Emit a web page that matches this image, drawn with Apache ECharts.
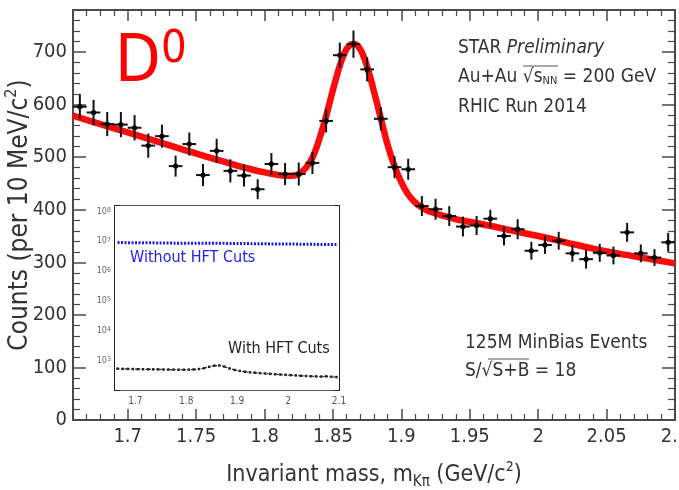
<!DOCTYPE html>
<html>
<head>
<meta charset="utf-8">
<script src="https://cdn.jsdelivr.net/npm/echarts@6/dist/echarts.min.js"></script>
<style>
  html, body { margin: 0; padding: 0; background: #fff; }
  #chart { width: 679px; height: 490px; }
</style>
</head>
<body>
<div id="chart"></div>
<script>
// Kπ invariant-mass bins (bin centres, GeV/c^2), width 10 MeV
const massBins = [1.665, 1.675, 1.685, 1.695, 1.705, 1.715, 1.725, 1.735, 1.745, 1.755,
  1.765, 1.775, 1.785, 1.795, 1.805, 1.815, 1.825, 1.835, 1.845, 1.855,
  1.865, 1.875, 1.885, 1.895, 1.905, 1.915, 1.925, 1.935, 1.945, 1.955,
  1.965, 1.975, 1.985, 1.995, 2.005, 2.015, 2.025, 2.035, 2.045, 2.055,
  2.065, 2.075, 2.085, 2.095];
// counts per bin and their statistical errors
const counts = [596, 585, 563, 562, 556, 522, 540, 483, 525, 466,
  512, 474, 465, 439, 487, 468, 468, 489, 569, 694,
  715, 667, 573, 481, 477, 407, 401, 388, 368, 370,
  383, 350, 363, 322, 333, 341, 317, 306, 318, 313,
  357, 317, 309, 338];
const countErr = [24, 24, 23, 24, 24, 23, 22, 20, 22, 21,
  23, 22, 21, 19, 21, 21, 22, 21, 22, 24,
  26, 23, 22, 21, 20, 19, 20, 19, 19, 18,
  17, 18, 19, 17, 17, 17, 16, 18, 17, 17,
  18, 17, 16, 18];
// fitted signal + background curve
const fitMass = [1.66, 1.68, 1.70, 1.72, 1.74, 1.76, 1.78, 1.79, 1.80, 1.81,
  1.815, 1.82, 1.825, 1.83, 1.835, 1.84, 1.845, 1.85, 1.855, 1.86,
  1.865, 1.87, 1.875, 1.88, 1.885, 1.89, 1.895, 1.90, 1.905, 1.91,
  1.915, 1.92, 1.93, 1.94, 1.96, 1.98, 2.00, 2.02, 2.04, 2.06, 2.08, 2.10];
const fitCounts = [579, 563, 547, 531, 515, 499, 484, 477, 471, 466,
  464.5, 464.5, 468, 479, 499, 534, 578, 628, 674, 706,
  716, 705, 672, 625, 574, 523, 483, 452, 429, 414,
  404, 397, 389, 382, 372, 361, 350, 338, 326, 316, 307, 298];
// inset: yields without and with HFT cuts (log scale)
const insetWithout = [8.9e6, 8.9e6, 8.8e6, 8.8e6, 8.8e6, 8.7e6, 8.7e6, 8.7e6, 8.6e6, 8.6e6,
  8.6e6, 8.5e6, 8.5e6, 8.5e6, 8.5e6, 8.4e6, 8.4e6, 8.4e6, 8.5e6, 8.5e6,
  8.5e6, 8.4e6, 8.3e6, 8.3e6, 8.2e6, 8.2e6, 8.2e6, 8.1e6, 8.1e6, 8.1e6,
  8.0e6, 8.0e6, 8.0e6, 7.9e6, 7.9e6, 7.9e6, 7.8e6, 7.8e6, 7.8e6, 7.7e6,
  7.7e6, 7.7e6, 7.6e6, 7.6e6];
const insetWith = [520, 512, 508, 505, 500, 498, 495, 492, 490, 488,
  485, 483, 480, 478, 482, 490, 505, 540, 600, 655,
  665, 610, 530, 470, 435, 410, 392, 380, 368, 358,
  348, 338, 330, 322, 315, 308, 300, 295, 290, 286,
  282, 288, 278, 272];
// tick positions
const xTickLabels = [1.7, 1.75, 1.8, 1.85, 1.9, 1.95, 2.0, 2.05, 2.1];
const xMinorTicks = [1.66, 1.67, 1.68, 1.69, 1.71, 1.72, 1.73, 1.74, 1.76, 1.77, 1.78, 1.79,
  1.81, 1.82, 1.83, 1.84, 1.86, 1.87, 1.88, 1.89, 1.91, 1.92, 1.93, 1.94,
  1.96, 1.97, 1.98, 1.99, 2.01, 2.02, 2.03, 2.04, 2.06, 2.07, 2.08, 2.09];
const yTickLabels = [0, 100, 200, 300, 400, 500, 600, 700];
const yMinorTicks = [20, 40, 60, 80, 120, 140, 160, 180, 220, 240, 260, 280, 320, 340, 360, 380,
  420, 440, 460, 480, 520, 540, 560, 580, 620, 640, 660, 680, 720, 740, 760];
const insetXTicks = [1.7, 1.8, 1.9, 2.0, 2.1];
const insetXMinor = [1.68, 1.72, 1.74, 1.76, 1.78, 1.82, 1.84, 1.86, 1.88,
  1.92, 1.94, 1.96, 1.98, 2.02, 2.04, 2.06, 2.08];

const FONT = "'Liberation Sans Narrow', 'DejaVu Sans Condensed', 'Liberation Sans', Arial, sans-serif";
const AXIS = '#4a4a4a';

const pts = massBins.map((m, i) => [m, counts[i], countErr[i]]);
const fitPts = fitMass.map((m, i) => [m, fitCounts[i]]);

function hidden(extra) {
  return Object.assign({
    axisLabel: { show: false }, splitLine: { show: false }
  }, extra);
}

const chart = echarts.init(document.getElementById('chart'), null, { renderer: 'canvas' });

const supStyle = { fontFamily: FONT, fontSize: 14, verticalAlign: 'top', lineHeight: 14, color: '#333' };
const subStyle = { fontFamily: FONT, fontSize: 15, verticalAlign: 'bottom', lineHeight: 14, color: '#333' };
const supStyleY = { fontFamily: FONT, fontSize: 16, verticalAlign: 'top', lineHeight: 15, color: '#333' };

chart.setOption({
  animation: false,
  backgroundColor: '#fff',
  grid: [
    { left: 73, top: 10, width: 602, height: 410, show: false, outerBoundsMode: 'none', containLabel: false },
    { left: 115, top: 206, width: 224, height: 184, show: true, backgroundColor: '#fff', borderWidth: 0, z: 5,
      outerBoundsMode: 'none', containLabel: false }
  ],
  xAxis: [
    { // main bottom axis with labels and title
      type: 'value', gridIndex: 0, min: 1.66, max: 2.1, position: 'bottom',
      axisLine: { show: true, onZero: false, lineStyle: { color: AXIS, width: 2 } },
      axisTick: { show: true, inside: true, length: 11, customValues: xTickLabels, lineStyle: { color: AXIS, width: 1.5 } },
      axisLabel: { show: true, customValues: xTickLabels, margin: 7, color: '#333', fontSize: 20, fontFamily: FONT,
        hideOverlap: false, formatter: v => String(+v.toFixed(2)) },
      splitLine: { show: false },
      name: 'Invariant mass, m{sub|Kπ} (GeV/c{sup|2})',
      nameLocation: 'middle', nameGap: 40,
      nameTextStyle: { fontSize: 23, fontFamily: FONT, color: '#333', lineHeight: 30,
        rich: { sub: subStyle, sup: supStyle } }
    },
    hidden({ type: 'value', gridIndex: 0, min: 1.66, max: 2.1, position: 'bottom',
      axisLine: { show: false, onZero: false },
      axisTick: { show: true, inside: true, length: 6, customValues: xMinorTicks, lineStyle: { color: AXIS, width: 1.2 } } }),
    hidden({ type: 'value', gridIndex: 0, min: 1.66, max: 2.1, position: 'top',
      axisLine: { show: true, onZero: false, lineStyle: { color: AXIS, width: 2 } },
      axisTick: { show: true, inside: true, length: 11, customValues: xTickLabels, lineStyle: { color: AXIS, width: 1.5 } } }),
    hidden({ type: 'value', gridIndex: 0, min: 1.66, max: 2.1, position: 'top',
      axisLine: { show: false, onZero: false },
      axisTick: { show: true, inside: true, length: 6, customValues: xMinorTicks, lineStyle: { color: AXIS, width: 1.2 } } }),
    { // inset x axis
      type: 'value', gridIndex: 1, min: 1.66, max: 2.1, position: 'bottom',
      axisLine: { show: true, onZero: false, lineStyle: { color: '#222', width: 1.5 } },
      axisTick: { show: true, inside: true, length: 5, customValues: insetXTicks, lineStyle: { color: '#222' } },
      axisLabel: { show: true, customValues: insetXTicks, margin: 6, color: '#555', fontSize: 10, fontFamily: FONT,
        hideOverlap: false, formatter: v => String(+v.toFixed(1)) },
      splitLine: { show: false }
    },
    hidden({ type: 'value', gridIndex: 1, min: 1.66, max: 2.1, position: 'bottom',
      axisLine: { show: false, onZero: false },
      axisTick: { show: true, inside: true, length: 3, customValues: insetXMinor, lineStyle: { color: '#222' } } }),
    hidden({ type: 'value', gridIndex: 1, min: 1.66, max: 2.1, position: 'top',
      axisLine: { show: true, onZero: false, lineStyle: { color: '#222', width: 1.5 } },
      axisTick: { show: true, inside: true, length: 4, customValues: insetXTicks.concat(insetXMinor), lineStyle: { color: '#222' } } })
  ],
  yAxis: [
    { // main left axis with labels and title
      type: 'value', gridIndex: 0, min: 0, max: 780, position: 'left',
      axisLine: { show: true, onZero: false, lineStyle: { color: AXIS, width: 2 } },
      axisTick: { show: true, inside: true, length: 13, customValues: yTickLabels, lineStyle: { color: AXIS, width: 1.5 } },
      axisLabel: { show: true, customValues: yTickLabels, margin: 6, color: '#333', fontSize: 20, fontFamily: FONT },
      splitLine: { show: false },
      name: 'Counts (per 10 MeV/c{sup|2})',
      nameLocation: 'middle', nameGap: 37, nameRotate: 90, nameMoveOverlap: false,
      nameTextStyle: { fontSize: 26, fontFamily: FONT, color: '#333', lineHeight: 32,
        rich: { sup: supStyleY } }
    },
    hidden({ type: 'value', gridIndex: 0, min: 0, max: 780, position: 'left',
      axisLine: { show: false, onZero: false },
      axisTick: { show: true, inside: true, length: 7, customValues: yMinorTicks, lineStyle: { color: AXIS, width: 1.2 } } }),
    hidden({ type: 'value', gridIndex: 0, min: 0, max: 780, position: 'right',
      axisLine: { show: true, onZero: false, lineStyle: { color: AXIS, width: 2 } },
      axisTick: { show: true, inside: true, length: 13, customValues: yTickLabels, lineStyle: { color: AXIS, width: 1.5 } } }),
    hidden({ type: 'value', gridIndex: 0, min: 0, max: 780, position: 'right',
      axisLine: { show: false, onZero: false },
      axisTick: { show: true, inside: true, length: 7, customValues: yMinorTicks, lineStyle: { color: AXIS, width: 1.2 } } }),
    { // inset log axis
      type: 'log', gridIndex: 1, min: 100, max: 1.5e8, logBase: 10, position: 'left',
      axisLine: { show: true, onZero: false, lineStyle: { color: '#222', width: 2 } },
      axisTick: { show: true, inside: true, length: 5, lineStyle: { color: '#222', width: 2 } },
      minorTick: { show: true, splitNumber: 5, length: 3, lineStyle: { color: '#222' } },
      axisLabel: { show: true, margin: 4, color: '#666', fontSize: 9, fontFamily: FONT,
        formatter: v => {
          const e = Math.round(Math.log10(v));
          if (Math.abs(Math.log10(v) - e) > 1e-6 || e < 3) return '';
          return '10{s|' + e + '}';
        },
        rich: { s: { fontSize: 7, verticalAlign: 'top', lineHeight: 8, color: '#666', fontFamily: FONT } } },
      splitLine: { show: false }
    },
    hidden({ type: 'log', gridIndex: 1, min: 100, max: 1.5e8, logBase: 10, position: 'right',
      axisLine: { show: true, onZero: false, lineStyle: { color: '#222', width: 2 } },
      axisTick: { show: true, inside: true, length: 5, lineStyle: { color: '#222', width: 2 } },
      minorTick: { show: true, splitNumber: 5, length: 3, lineStyle: { color: '#222' } } })
  ],
  series: [
    {
      type: 'line', name: 'fit', xAxisIndex: 0, yAxisIndex: 0,
      data: fitPts, smooth: 0.35, showSymbol: false, z: 2,
      lineStyle: { color: '#ff0a0a', width: 6.5 }
    },
    {
      type: 'custom', name: 'data', xAxisIndex: 0, yAxisIndex: 0, z: 3,
      data: pts,
      renderItem: (params, api) => {
        const m = api.value(0), c = api.value(1), e = api.value(2);
        const p = api.coord([m, c]);
        const t = api.coord([m, c + e]);
        const b = api.coord([m, c - e]);
        const l = api.coord([m - 0.005, c]);
        const r = api.coord([m + 0.005, c]);
        const st = { stroke: '#111', lineWidth: 2 };
        return {
          type: 'group',
          children: [
            { type: 'line', shape: { x1: p[0], y1: t[1], x2: p[0], y2: b[1] }, style: st },
            { type: 'line', shape: { x1: l[0], y1: p[1], x2: r[0], y2: p[1] }, style: st },
            { type: 'circle', shape: { cx: p[0], cy: p[1], r: 2.6 }, style: { fill: '#000' } }
          ]
        };
      }
    },
    {
      type: 'line', name: 'Without HFT Cuts', xAxisIndex: 4, yAxisIndex: 4, z: 6,
      data: massBins.map((m, i) => [m, insetWithout[i]]),
      showSymbol: false,
      lineStyle: { color: '#1c1cf0', width: 3, type: [2, 1.5] }
    },
    {
      type: 'line', name: 'With HFT Cuts', xAxisIndex: 4, yAxisIndex: 4, z: 6,
      data: massBins.map((m, i) => [m, insetWith[i]]),
      symbol: 'rect', symbolSize: 2.5, showSymbol: true,
      itemStyle: { color: '#222' },
      lineStyle: { color: '#222', width: 1.2, type: [2, 1.5] }
    }
  ],
  graphic: [
    { type: 'text', left: 115, top: 31, z: 10,
      style: { text: 'D', font: '66px ' + FONT, fill: '#ff0000' } },
    { type: 'text', left: 161, top: 28, z: 10,
      style: { text: '0', font: '45px ' + FONT, fill: '#ff0000' } },
    { type: 'text', x: 458, y: 58, z: 10,
      style: { text: 'STAR {i|Preliminary}', font: '19px ' + FONT, fill: '#333', verticalAlign: 'bottom',
        rich: { i: { fontStyle: 'italic', fontSize: 19, fontFamily: FONT, fill: '#333' } } } },
    { type: 'text', x: 458, y: 87, z: 10,
      style: { text: 'Au+Au √s{n|NN} = 200 GeV', font: '19px ' + FONT, fill: '#333', verticalAlign: 'bottom',
        rich: { n: { fontSize: 11, fontFamily: FONT, fill: '#333', verticalAlign: 'bottom', lineHeight: 10 } } } },
    { type: 'line', z: 10, shape: { x1: 523, y1: 66, x2: 558, y2: 66 }, style: { stroke: '#555', lineWidth: 1 } },
    { type: 'text', x: 458, y: 117, z: 10,
      style: { text: 'RHIC Run 2014', font: '19px ' + FONT, fill: '#333', verticalAlign: 'bottom' } },
    { type: 'text', x: 465, y: 353, z: 10,
      style: { text: '125M MinBias Events', font: '19px ' + FONT, fill: '#333', verticalAlign: 'bottom' } },
    { type: 'text', x: 465, y: 381, z: 10,
      style: { text: 'S/√S+B = 18', font: '19px ' + FONT, fill: '#333', verticalAlign: 'bottom' } },
    { type: 'line', z: 10, shape: { x1: 488, y1: 359, x2: 529, y2: 359 }, style: { stroke: '#555', lineWidth: 1 } },
    { type: 'text', x: 130, y: 258, z: 10,
      style: { text: 'Without HFT Cuts', font: '16px ' + FONT, fill: '#2020f0', verticalAlign: 'middle' } },
    { type: 'text', x: 228, y: 349, z: 10,
      style: { text: 'With HFT Cuts', font: '16px ' + FONT, fill: '#222', verticalAlign: 'middle' } }
  ]
});
</script>
</body>
</html>
